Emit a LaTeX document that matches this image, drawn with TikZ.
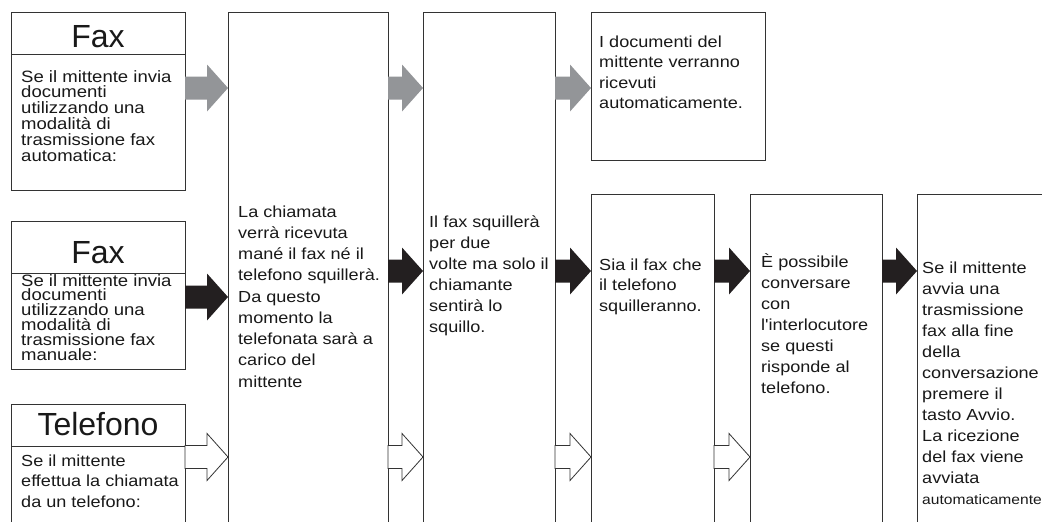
\documentclass[tikz,border=0pt]{standalone}
\usepackage{fontspec}
\setmainfont{Liberation Sans}[Ligatures=TeXOff]
\newfontfamily\bodyfont{Liberation Sans}[Ligatures=TeXOff, FakeStretch=1.13]
\usetikzlibrary{calc}
\definecolor{linec}{HTML}{333333}
\definecolor{grayarr}{HTML}{939598}
\definecolor{blackarr}{HTML}{231F20}
\newcommand\blockarr[4]{%
  \path[#4] let \p1=(#1.east |- #3), \p2=(#2.west |- #3) in
    (\x1,\y1+11.5pt) -- (\x2-21pt,\y1+11.5pt) -- (\x2-21pt,\y1+23.5pt) --
    (\x2,\y1) -- (\x2-21pt,\y1-23.5pt) -- (\x2-21pt,\y1-11.5pt) --
    (\x1,\y1-11.5pt) -- cycle;}
\tikzset{
  box/.style={draw=linec, line width=0.9pt, fill=white, inner sep=0pt, outer sep=0pt, anchor=north west},
  divider/.style={draw=linec, line width=0.9pt},
  head/.style={anchor=base, inner sep=0pt, font=\fontsize{32}{36}\selectfont, text=black!90},
  txt/.style={anchor=base west, inner sep=0pt, align=left, text=black!90},
  grayA/.style={fill=grayarr},
  blackA/.style={fill=blackarr},
  whiteA/.style={fill=white, draw=linec, line width=0.8pt, line join=miter},
}
\begin{document}
\begin{tikzpicture}[x=1pt,y=-1pt]
\useasboundingbox (0,0) rectangle (1042,522);
\fill[white] (0,0) rectangle (1042,522);
\clip (0,0) rectangle (1042,522);

% boxes
\node[box, minimum width=174pt, minimum height=178pt] (fax1) at (11,12) {};
\node[box, minimum width=174pt, minimum height=148pt] (fax2) at (11,221) {};
\node[box, minimum width=174pt, minimum height=140pt] (tel) at (11,404) {};
\node[box, minimum width=160pt, minimum height=540pt] (c1) at (228,12) {};
\node[box, minimum width=132pt, minimum height=540pt] (c2) at (423,12) {};
\node[box, minimum width=174pt, minimum height=148pt] (r1) at (591,12) {};
\node[box, minimum width=123pt, minimum height=360pt] (r2) at (591,194) {};
\node[box, minimum width=132pt, minimum height=360pt] (r3) at (750,194) {};
\node[box, minimum width=160pt, minimum height=360pt] (r4) at (917,194) {};

% header dividers
\coordinate (d1) at (0,54);
\coordinate (d2) at (0,273);
\coordinate (d3) at (0,446);
\draw[divider] (fax1.west |- d1) -- (fax1.east |- d1);
\draw[divider] (fax2.west |- d2) -- (fax2.east |- d2);
\draw[divider] (tel.west |- d3) -- (tel.east |- d3);

% arrow rows
\coordinate (yg) at (0,88);
\coordinate (yb0) at (0,297);
\coordinate (yb) at (0,271);
\coordinate (yw) at (0,457);

\blockarr{fax1}{c1}{yg}{grayA}
\blockarr{c1}{c2}{yg}{grayA}
\blockarr{c2}{r1}{yg}{grayA}

\blockarr{fax2}{c1}{yb0}{blackA}
\blockarr{c1}{c2}{yb}{blackA}
\blockarr{c2}{r2}{yb}{blackA}
\blockarr{r2}{r3}{yb}{blackA}
\blockarr{r3}{r4}{yb}{blackA}

\blockarr{tel}{c1}{yw}{whiteA}
\blockarr{c1}{c2}{yw}{whiteA}
\blockarr{c2}{r2}{yw}{whiteA}
\blockarr{r2}{r3}{yw}{whiteA}

% headers
\node[head] (h1) at (98,47) {Fax};
\node[head] (h2) at (98,263) {Fax};
\node[head] (h3) at (98,435) {Telefono};

% texts (anchored at the baseline of their last line)
\node[txt, font=\bodyfont\fontsize{16.4}{15.8}\selectfont] (t1) at (21,161)
  {Se il mittente invia\\documenti\\utilizzando una\\modalità di\\trasmissione fax\\automatica:};
\node[txt, font=\bodyfont\fontsize{16.4}{14.8}\selectfont] (t2) at (21,360)
  {Se il mittente invia\\documenti\\utilizzando una\\modalità di\\trasmissione fax\\manuale:};
\node[txt, font=\bodyfont\fontsize{16}{20.7}\selectfont] (t3) at (21,507.4)
  {Se il mittente\\effettua la chiamata\\da un telefono:};
\node[txt, font=\bodyfont\fontsize{16}{21.25}\selectfont] (tc1) at (238,387)
  {La chiamata\\verrà ricevuta\\mané il fax né il\\telefono squillerà.\\Da questo\\momento la\\telefonata sarà a\\carico del\\mittente};
\node[txt, font=\bodyfont\fontsize{16}{21}\selectfont] (tc2) at (429,332)
  {Il fax squillerà\\per due\\volte ma solo il\\chiamante\\sentirà lo\\squillo.};
\node[txt, font=\bodyfont\fontsize{16}{20.5}\selectfont] (tr1) at (599,108.5)
  {I documenti del\\mittente verranno\\ricevuti\\automaticamente.};
\node[txt, font=\bodyfont\fontsize{16}{20.5}\selectfont] (tr2) at (599,311)
  {Sia il fax che\\il telefono\\squilleranno.};
\node[txt, font=\bodyfont\fontsize{16}{21}\selectfont] (tr3) at (761,393)
  {È possibile\\conversare\\con\\l'interlocutore\\se questi\\risponde al\\telefono.};
\node[txt, font=\bodyfont\fontsize{16}{21}\selectfont] (tr4) at (922,504)
  {Se il mittente\\avvia una\\trasmissione\\fax alla fine\\della\\conversazione\\premere il\\tasto Avvio.\\La ricezione\\del fax viene\\avviata\\{\fontsize{13.8}{21}\selectfont automaticamente}};
\end{tikzpicture}
\end{document}
